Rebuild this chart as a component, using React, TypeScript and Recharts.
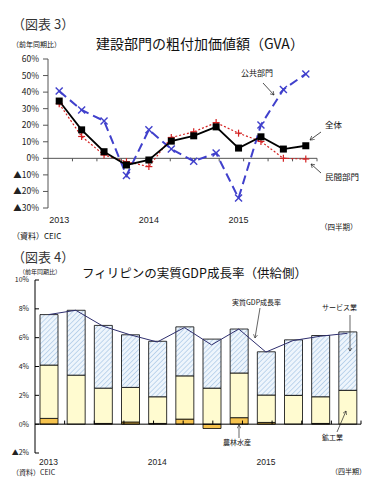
import { ComposedChart, Line, Bar, XAxis, YAxis, ReferenceLine } from 'recharts';

// ---------------------------------------------------------------------------
// Data
// ---------------------------------------------------------------------------

const QUARTERS = [
  '2013Q1', '2013Q2', '2013Q3', '2013Q4',
  '2014Q1', '2014Q2', '2014Q3', '2014Q4',
  '2015Q1', '2015Q2', '2015Q3', '2015Q4',
];
const YEAR_LABELS = ['2013', '', '', '', '2014', '', '', '', '2015', '', '', ''];

// 図表3: 建設部門の粗付加価値額 (前年同期比, %)
const TOTAL = [34.6, 17.2, 4, -4, -1, 10.4, 13.6, 19, 6.2, 13, 5.6, 7.6];
const PUBLIC = [40.6, 29.2, 22.6, -10.4, 17.2, 5.6, -1.8, 3.2, -24, 20.2, 41.6, 51];
const PRIVATE = [33, 13.2, 2, -2, -5, 12.6, 16, 21.6, 15.2, 10.2, 0, -0.4];
const GVA_TICKS = [-30, -20, -10, 0, 10, 20, 30, 40, 50, 60];

// 図表4: フィリピンの実質GDP成長率 (供給側, 寄与度 %)
const AGRI = [0.4, 0, 0.05, 0.15, 0.05, 0.35, -0.3, 0.45, 0.12, 0, 0.05, 0];
const INDUSTRY = [3.7, 3.4, 2.45, 2.4, 1.85, 3.0, 2.5, 3.1, 1.9, 2.0, 1.85, 2.35];
const SERVICES = [3.5, 4.5, 4.35, 3.65, 3.85, 3.4, 3.4, 3.05, 3.0, 3.85, 4.25, 4.05];
const GDP = [7.6, 7.9, 6.8, 6.2, 5.7, 6.7, 5.5, 6.6, 5.0, 5.8, 6.1, 6.3];
const GDP_TICKS = [-2, 0, 2, 4, 6, 8, 10];

// quarter boundaries (tick marks on the zero line)
const BOUNDARIES = [1, 2, 3, 4, 5, 6, 7, 8, 9, 10, 11, 12];

const gvaData = QUARTERS.map((q, i) => ({
  q,
  total: TOTAL[i],
  pub: PUBLIC[i],
  priv: PRIVATE[i],
}));

const gdpData = QUARTERS.map((q, i) => ({
  q,
  agri: AGRI[i],
  industry: INDUSTRY[i],
  services: SERVICES[i],
  gdp: GDP[i],
}));

const NUM_FONT = "'Liberation Sans', 'DejaVu Sans', Arial, sans-serif";
const JP_FONT = "'Noto Sans CJK JP', 'Noto Sans', sans-serif";

const pctLabel = (v: number) => (v < 0 ? `▲${Math.abs(v)}%` : `${v}%`);

// ---------------------------------------------------------------------------
// Markers
// ---------------------------------------------------------------------------

const SquareDot = (p: any) => (
  <rect key={`sq-${p.index}`} x={p.cx - 3.5} y={p.cy - 3.5} width={7} height={7} fill="#000" />
);

const CrossDot = (p: any) => (
  <g key={`x-${p.index}`} stroke="#4040cc" strokeWidth={1.4}>
    <line x1={p.cx - 3.5} y1={p.cy - 3.5} x2={p.cx + 3.5} y2={p.cy + 3.5} />
    <line x1={p.cx - 3.5} y1={p.cy + 3.5} x2={p.cx + 3.5} y2={p.cy - 3.5} />
  </g>
);

const PlusDot = (p: any) => (
  <g key={`p-${p.index}`} stroke="#d42222" strokeWidth={1.2}>
    <line x1={p.cx - 3.5} y1={p.cy} x2={p.cx + 3.5} y2={p.cy} />
    <line x1={p.cx} y1={p.cy - 3.5} x2={p.cx} y2={p.cy + 3.5} />
  </g>
);

// ---------------------------------------------------------------------------
// 図表3
// ---------------------------------------------------------------------------

function GvaChart() {
  return (
    <ComposedChart
      width={376}
      height={240}
      data={gvaData}
      margin={{ top: 59, right: 59, left: 0, bottom: 12 }}
    >
      <XAxis
        dataKey="q"
        scale="band"
        interval={0}
        height={20}
        axisLine={false}
        tickLine={false}
        tickSize={0}
        tickMargin={9}
        tickFormatter={(_v: string, i: number) => YEAR_LABELS[i]}
        tick={{ fill: '#222', fontSize: 9, fontFamily: NUM_FONT }}
      />
      <XAxis xAxisId="grid" type="number" domain={[0, 12]} hide />
      <YAxis
        width={48}
        domain={[-30, 60]}
        ticks={GVA_TICKS}
        interval={0}
        tickSize={5}
        tickMargin={4}
        tickFormatter={pctLabel}
        axisLine={{ stroke: '#555' }}
        tickLine={{ stroke: '#555' }}
        tick={{ fill: '#222', fontSize: 8.5, fontFamily: JP_FONT }}
      />
      <ReferenceLine y={0} stroke="#555" strokeWidth={1} />
      {BOUNDARIES.map((b) => (
        <ReferenceLine
          key={`b-${b}`}
          xAxisId="grid"
          segment={[{ x: b, y: 0 }, { x: b, y: -1.8 }]}
          stroke="#555"
        />
      ))}
      <Line
        dataKey="priv"
        stroke="#d42222"
        strokeWidth={1.2}
        strokeDasharray="2 2"
        dot={PlusDot}
        isAnimationActive={false}
      />
      <Line
        dataKey="pub"
        stroke="#4040cc"
        strokeWidth={2}
        strokeDasharray="9 5"
        dot={CrossDot}
        isAnimationActive={false}
      />
      <Line
        dataKey="total"
        stroke="#000"
        strokeWidth={1.8}
        dot={SquareDot}
        isAnimationActive={false}
      />
    </ComposedChart>
  );
}

// ---------------------------------------------------------------------------
// 図表4
// ---------------------------------------------------------------------------

function GdpChart() {
  return (
    <ComposedChart
      width={376}
      height={240}
      data={gdpData}
      stackOffset="sign"
      margin={{ top: 30, right: 15, left: 0, bottom: 17 }}
    >
      <defs>
        <pattern
          id="svcHatch"
          patternUnits="userSpaceOnUse"
          width={3.5}
          height={3.5}
          patternTransform="rotate(45)"
        >
          <rect width={3.5} height={3.5} fill="#eef5fc" />
          <line x1={0} y1={0} x2={0} y2={3.5} stroke="#9fc0e2" strokeWidth={1.2} />
        </pattern>
      </defs>
      <XAxis
        dataKey="q"
        interval={0}
        height={20}
        axisLine={false}
        tickLine={false}
        tickSize={0}
        tickMargin={6}
        tickFormatter={(_v: string, i: number) => YEAR_LABELS[i]}
        tick={{ fill: '#222', fontSize: 8.5, fontFamily: NUM_FONT }}
      />
      <XAxis xAxisId="grid" type="number" domain={[0, 12]} hide />
      <YAxis
        width={35}
        domain={[-2, 10]}
        ticks={GDP_TICKS}
        interval={0}
        tickSize={-4}
        tickMargin={10}
        tickFormatter={pctLabel}
        axisLine={{ stroke: '#000' }}
        tickLine={{ stroke: '#000' }}
        tick={{ fill: '#222', fontSize: 7, fontFamily: JP_FONT }}
      />
      <Bar dataKey="agri" stackId="s" barSize={18} fill="#f6c34e" stroke="#000" strokeWidth={0.8} isAnimationActive={false} />
      <Bar dataKey="industry" stackId="s" barSize={18} fill="#fffbd0" stroke="#000" strokeWidth={0.8} isAnimationActive={false} />
      <Bar dataKey="services" stackId="s" barSize={18} fill="url(#svcHatch)" stroke="#000" strokeWidth={0.8} isAnimationActive={false} />
      <ReferenceLine y={0} stroke="#000" strokeWidth={1} />
      {BOUNDARIES.map((b) => (
        <ReferenceLine
          key={`b-${b}`}
          xAxisId="grid"
          segment={[{ x: b, y: 0 }, { x: b, y: 0.25 }]}
          stroke="#000"
        />
      ))}
      <Line
        dataKey="gdp"
        stroke="#2e2e6e"
        strokeWidth={1}
        dot={false}
        isAnimationActive={false}
      />
    </ComposedChart>
  );
}

// ---------------------------------------------------------------------------
// Titles, notes and annotation arrows
// ---------------------------------------------------------------------------

function Overlay() {
  const jp = { fontFamily: JP_FONT, fill: '#111' };
  return (
    <svg
      width={376}
      height={490}
      style={{ position: 'absolute', left: 0, top: 0, pointerEvents: 'none' }}
    >
      <defs>
        <marker id="arr" markerWidth={6} markerHeight={6} refX={5} refY={3} orient="auto">
          <path d="M0,0 L5,3 L0,6" fill="none" stroke="#222" strokeWidth={0.8} />
        </marker>
      </defs>

      {/* 図表3 */}
      <text x={12} y={29} fontSize={13} {...jp} fill="#333">（図表 3）</text>
      <text x={12} y={47} fontSize={7} {...jp}>（前年同期比）</text>
      <text x={200} y={49} fontSize={14} textAnchor="middle" {...jp}>建設部門の粗付加価値額（GVA）</text>
      <text x={241} y={76} fontSize={8} {...jp}>公共部門</text>
      <line x1={263} y1={83} x2={274} y2={95} stroke="#222" strokeWidth={0.8} markerEnd="url(#arr)" />
      <text x={325} y={128} fontSize={8.5} {...jp}>全体</text>
      <line x1={321} y1={132} x2={310} y2={140} stroke="#222" strokeWidth={0.8} markerEnd="url(#arr)" />
      <text x={325} y={180} fontSize={8.5} {...jp}>民間部門</text>
      <line x1={321} y1={173} x2={311} y2={164} stroke="#222" strokeWidth={0.8} markerEnd="url(#arr)" />
      <text x={320} y={230} fontSize={7.5} {...jp}>（四半期）</text>
      <text x={12} y={239} fontSize={8} {...jp}>（資料）CEIC</text>

      {/* 図表4 */}
      <text x={12} y={262} fontSize={13} {...jp} fill="#333">（図表 4）</text>
      <text x={19} y={274} fontSize={6} {...jp}>（前年同期比）</text>
      <text x={82} y={278} fontSize={12.5} {...jp}>フィリピンの実質GDP成長率（供給側）</text>
      <text x={232} y={305} fontSize={7} {...jp}>実質GDP成長率</text>
      <line x1={260} y1={308} x2={255} y2={338} stroke="#222" strokeWidth={0.7} markerEnd="url(#arr)" />
      <text x={322} y={310} fontSize={7} {...jp}>サービス業</text>
      <line x1={350} y1={315} x2={350} y2={351} stroke="#222" strokeWidth={0.7} markerEnd="url(#arr)" />
      <text x={223} y={445} fontSize={7} {...jp}>農林水産</text>
      <line x1={239} y1={438} x2={239} y2={425} stroke="#222" strokeWidth={0.7} markerEnd="url(#arr)" />
      <text x={322} y={440} fontSize={7} {...jp}>鉱工業</text>
      <line x1={337} y1={432} x2={346} y2={411} stroke="#222" strokeWidth={0.7} markerEnd="url(#arr)" />
      <text x={12} y={475} fontSize={7} {...jp}>（資料）CEIC</text>
      <text x={331} y={474} fontSize={7} {...jp}>（四半期）</text>
    </svg>
  );
}

export default function App() {
  return (
    <div style={{ position: 'absolute', left: 0, top: 0, width: 376, height: 490, background: '#fff', overflow: 'hidden' }}>
      <div style={{ position: 'absolute', left: 0, top: 0 }}>
        <GvaChart />
      </div>
      <div style={{ position: 'absolute', left: 0, top: 250 }}>
        <GdpChart />
      </div>
      <Overlay />
    </div>
  );
}
